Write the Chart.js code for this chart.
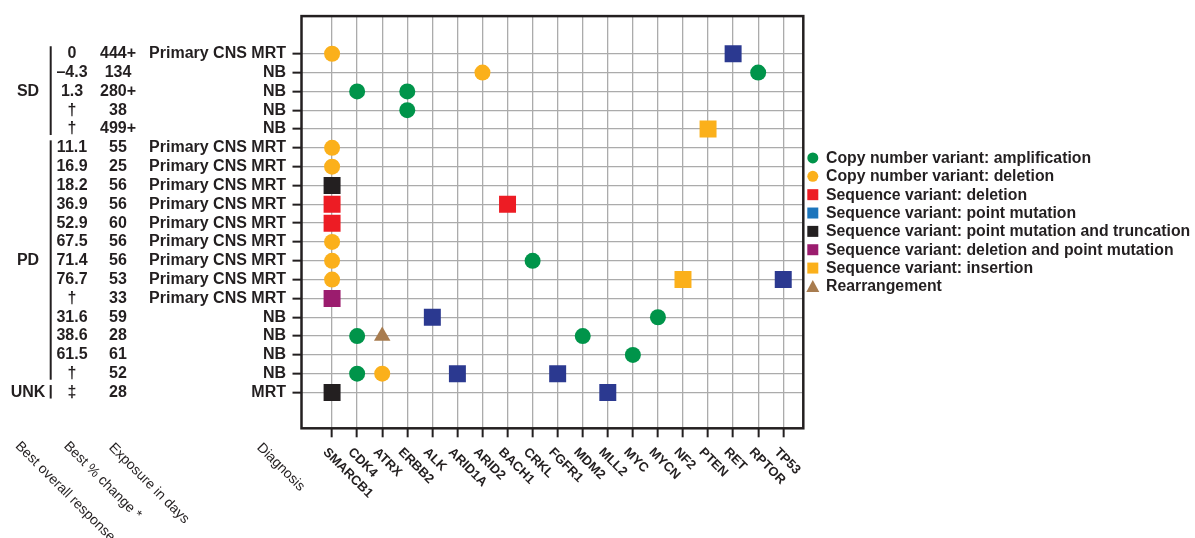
<!DOCTYPE html>
<html>
<head>
<meta charset="utf-8">
<script src="https://cdn.jsdelivr.net/npm/chart.js@4.4.1/dist/chart.umd.min.js"></script>
<style>
  html, body { margin: 0; padding: 0; background: #ffffff; }
  canvas { display: block; }
</style>
</head>
<body>
<canvas id="chart" width="1195" height="538"></canvas>
<script>
// Genes on the horizontal axis
const genes = ['SMARCB1', 'CDK4', 'ATRX', 'ERBB2', 'ALK', 'ARID1A', 'ARID2', 'BACH1', 'CRKL',
  'FGFR1', 'MDM2', 'MLL2', 'MYC', 'MYCN', 'NF2', 'PTEN', 'RET', 'RPTOR', 'TP53'];

// One row per patient, top to bottom
const diagnosis = ['Primary CNS MRT', 'NB', 'NB', 'NB', 'NB',
  'Primary CNS MRT', 'Primary CNS MRT', 'Primary CNS MRT', 'Primary CNS MRT', 'Primary CNS MRT',
  'Primary CNS MRT', 'Primary CNS MRT', 'Primary CNS MRT', 'Primary CNS MRT',
  'NB', 'NB', 'NB', 'NB', 'MRT'];
const bestChange = ['0', '–4.3', '1.3', '†', '†', '11.1', '16.9', '18.2', '36.9', '52.9',
  '67.5', '71.4', '76.7', '†', '31.6', '38.6', '61.5', '†', '‡'];
const exposureDays = ['444+', '134', '280+', '38', '499+', '55', '25', '56', '56', '60',
  '56', '56', '53', '33', '59', '28', '61', '52', '28'];

// Best overall response groups (first and last patient row of each)
const responseGroups = ['SD', 'PD', 'UNK'];
const responseFirstRow = [0, 5, 18];
const responseLastRow = [4, 17, 18];

// Alterations found: [gene, patient row]
const cnvAmplification = [['RPTOR', 1], ['CDK4', 2], ['ERBB2', 2], ['ERBB2', 3], ['CRKL', 11],
  ['MYCN', 14], ['CDK4', 15], ['MDM2', 15], ['MYC', 16], ['CDK4', 17]];
const cnvDeletion = [['SMARCB1', 0], ['ARID2', 1], ['SMARCB1', 5], ['SMARCB1', 6], ['SMARCB1', 10],
  ['SMARCB1', 11], ['SMARCB1', 12], ['ATRX', 17]];
const seqDeletion = [['SMARCB1', 8], ['BACH1', 8], ['SMARCB1', 9]];
const seqPointMutation = [['RET', 0], ['TP53', 12], ['ALK', 14], ['ARID1A', 17], ['FGFR1', 17], ['MLL2', 18]];
const seqPointTruncation = [['SMARCB1', 7], ['SMARCB1', 18]];
const seqDeletionPoint = [['SMARCB1', 13]];
const seqInsertion = [['PTEN', 4], ['NF2', 12]];
const rearrangement = [['ATRX', 15]];

const INK = '#231f20';
const FONT = '"Liberation Sans", Arial, Helvetica, sans-serif';

const toPoints = list => list.map(([gene, row]) => ({ x: genes.indexOf(gene), y: row }));

const series = [
  { label: 'Copy number variant: amplification', data: cnvAmplification, style: 'circle', r: 8, color: '#00944a' },
  { label: 'Copy number variant: deletion', data: cnvDeletion, style: 'circle', r: 8, color: '#fbb01b' },
  { label: 'Sequence variant: deletion', data: seqDeletion, style: 'rect', r: 12, color: '#ed1c24' },
  { label: 'Sequence variant: point mutation', data: seqPointMutation, style: 'rect', r: 12, color: '#2b3990', legendColor: '#1c75bc' },
  { label: 'Sequence variant: point mutation and truncation', data: seqPointTruncation, style: 'rect', r: 12, color: '#231f20' },
  { label: 'Sequence variant: deletion and point mutation', data: seqDeletionPoint, style: 'rect', r: 12, color: '#9b1c6e' },
  { label: 'Sequence variant: insertion', data: seqInsertion, style: 'rect', r: 12, color: '#fbb01b' },
  { label: 'Rearrangement', data: rearrangement, style: 'triangle', r: 9.5, color: '#a87c4f' }
];

const datasets = series.map(s => ({
  label: s.label,
  data: toPoints(s.data),
  pointStyle: s.style,
  pointRadius: s.r,
  backgroundColor: s.color,
  borderWidth: 0,
  legendColor: s.legendColor || s.color
}));

// Patient table on the left, rotated column headers, gene labels, frame and legend
const tablePlugin = {
  id: 'patientTable',
  afterDraw(chart) {
    const { ctx, chartArea, scales } = chart;
    const xs = scales.x, ys = scales.y;
    ctx.save();

    // plot frame
    ctx.strokeStyle = INK;
    ctx.lineWidth = 2.5;
    ctx.strokeRect(chartArea.left, chartArea.top, chartArea.right - chartArea.left, chartArea.bottom - chartArea.top);

    // table columns
    ctx.fillStyle = INK;
    ctx.font = 'bold 16px ' + FONT;
    ctx.textBaseline = 'middle';
    ctx.textAlign = 'center';
    bestChange.forEach((t, i) => ctx.fillText(t, 72, ys.getPixelForValue(i)));
    exposureDays.forEach((t, i) => ctx.fillText(t, 118, ys.getPixelForValue(i)));

    ctx.lineWidth = 2;
    responseGroups.forEach((g, k) => {
      const y0 = ys.getPixelForValue(responseFirstRow[k]);
      const y1 = ys.getPixelForValue(responseLastRow[k]);
      ctx.fillText(g, 28, (y0 + y1) / 2);
      ctx.beginPath();
      ctx.moveTo(50.7, y0 - 7.5);
      ctx.lineTo(50.7, y1 + 6);
      ctx.stroke();
    });

    // gene labels under the axis
    ctx.font = 'bold 13px ' + FONT;
    ctx.textAlign = 'left';
    genes.forEach((g, i) => {
      ctx.save();
      ctx.translate(xs.getPixelForValue(i) - 7, chartArea.bottom + 22);
      ctx.rotate(Math.PI / 4);
      ctx.fillText(g, 0, 0);
      ctx.restore();
    });

    // column headers
    ctx.font = '14px ' + FONT;
    const headers = [['Best overall response', 17.5], ['Best % change *', 66], ['Exposure in days', 111], ['Diagnosis', 259]];
    headers.forEach(([t, hx], k) => {
      ctx.save();
      ctx.translate(hx, k < 2 ? 444 : 445.5);
      ctx.rotate(Math.PI / 4);
      ctx.fillText(t, 0, 0);
      ctx.restore();
    });

    // legend
    const cy = (chartArea.top + chartArea.bottom) / 2;
    const mx = chartArea.right + 9.5;
    ctx.font = 'bold 15.8px ' + FONT;
    chart.data.datasets.forEach((ds, i) => {
      const yy = cy + (i - 3.5) * 18.35;
      ctx.fillStyle = ds.legendColor;
      ctx.beginPath();
      if (ds.pointStyle === 'circle') {
        ctx.arc(mx, yy, 5.5, 0, Math.PI * 2);
      } else if (ds.pointStyle === 'rect') {
        ctx.rect(mx - 5.5, yy - 5.5, 11, 11);
      } else {
        ctx.moveTo(mx, yy - 6.5);
        ctx.lineTo(mx + 6.5, yy + 5.5);
        ctx.lineTo(mx - 6.5, yy + 5.5);
        ctx.closePath();
      }
      ctx.fill();
      ctx.fillStyle = INK;
      ctx.fillText(ds.label, chartArea.right + 22.7, yy + 0.5);
    });

    ctx.restore();
  }
};

new Chart(document.getElementById('chart'), {
  type: 'scatter',
  data: { datasets },
  options: {
    responsive: false,
    devicePixelRatio: 1,
    animation: false,
    events: [],
    layout: { padding: { top: 14.5, right: 391.7, bottom: 0, left: 0 } },
    plugins: { legend: { display: false }, tooltip: { enabled: false } },
    scales: {
      x: {
        type: 'linear',
        position: 'bottom',
        min: -1.22,
        max: 18.8,
        afterBuildTicks: scale => { scale.ticks = genes.map((g, i) => ({ value: i })); },
        afterFit: scale => { scale.height = 109.7; },
        ticks: { display: false },
        border: { display: false },
        grid: { color: '#ababab', lineWidth: 1.3, drawTicks: true, tickLength: 9, tickColor: INK, tickWidth: 2 }
      },
      y: {
        type: 'linear',
        position: 'left',
        reverse: true,
        min: -2.0,
        max: 19.9,
        afterBuildTicks: scale => { scale.ticks = diagnosis.map((d, i) => ({ value: i })); },
        afterFit: scale => { scale.width = 301.5; },
        ticks: {
          autoSkip: false,
          padding: 6.5,
          color: INK,
          font: { family: FONT, size: 16, weight: 'bold' },
          callback: v => diagnosis[v]
        },
        border: { display: false },
        grid: { color: '#ababab', lineWidth: 1.3, drawTicks: true, tickLength: 9, tickColor: INK, tickWidth: 2 }
      }
    }
  },
  plugins: [tablePlugin]
});
</script>
</body>
</html>
